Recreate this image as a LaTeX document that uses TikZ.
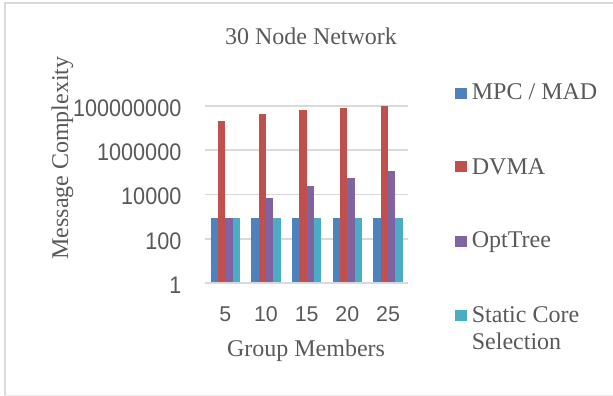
\documentclass[tikz,border=0pt]{standalone}
\usepackage{fontspec}
\setmainfont{Liberation Serif}
\newfontfamily\ticksf{Liberation Sans}
\definecolor{cblue}{HTML}{4F81BD}
\definecolor{cred}{HTML}{C0504D}
\definecolor{cpurple}{HTML}{8064A2}
\definecolor{ccyan}{HTML}{4BACC6}
\definecolor{gridc}{HTML}{D9D9D9}
\definecolor{txt}{HTML}{595959}
\newcommand{\tickstretch}[1]{\scalebox{1}[1.11]{#1}}
\tikzset{
  gridline/.style={draw=gridc, line width=1.6pt},
  ticklab/.style={anchor=base east, inner sep=0pt, text=txt, font=\ticksf\fontsize{21.6}{24}\selectfont},
  catlab/.style={anchor=base, inner sep=0pt, text=txt, font=\ticksf\fontsize{21.4}{24}\selectfont},
  titlelab/.style={anchor=base, inner sep=0pt, text=txt, font=\fontsize{24}{27}\selectfont},
  leglab/.style={anchor=base west, inner sep=0pt, text=txt, font=\fontsize{24}{26.7}\selectfont},
  legsq/.style={minimum size=11.3pt, inner sep=0pt, anchor=north west}
}
\begin{document}
\begin{tikzpicture}[x=1pt,y=-1pt]
\useasboundingbox (0,0) rectangle (613,396);
% frame
\draw[draw=gridc, line width=2pt] (5,396) -- (5,3) -- (614,3);
\draw[draw=gridc!50, line width=1pt] (5,395.5) -- (614,395.5);
% gridlines
\foreach \yy in {105.7,150,194.3,238.7,282.7}
  \draw[gridline] (205,\yy) -- (408.3,\yy);
% tick labels
\node[ticklab] (t8) at (181.5,116) {\tickstretch{100000000}};
\node[ticklab] (t6) at (181.5,160.3) {\tickstretch{1000000}};
\node[ticklab] (t4) at (181.5,204.6) {\tickstretch{10000}};
\node[ticklab] (t2) at (181.5,249) {\tickstretch{100}};
\node[ticklab] (t0) at (181.5,293) {\tickstretch{1}};
% bars
\def\base{282}
\foreach \c/\r/\p in {225.3/121/217.7, 266/114.3/197.7, 306.7/110.3/186, 347.3/108/177.7, 388/105.7/171}{
  \fill[cblue] (\c-14.67,\base) rectangle (\c-7.33,217.7);
  \fill[cred] (\c-7.33,\base) rectangle (\c,\r);
  \fill[cpurple] (\c,\base) rectangle (\c+7.33,\p);
  \fill[ccyan] (\c+7.33,\base) rectangle (\c+14.67,217.7);
}
% category labels
\node[catlab] (c1) at (225.3,321.7) {5};
\node[catlab] (c2) at (266,321.7) {10};
\node[catlab] (c3) at (306.7,321.7) {15};
\node[catlab] (c4) at (347.3,321.7) {20};
\node[catlab] (c5) at (388,321.7) {25};
% titles
\node[titlelab] (title) at (311,45) {30 Node Network};
\node[titlelab] (xt) at (306,356.7) {Group Members};
\node[titlelab, rotate=90] (yt) at (68,158) {Message Complexity};
% legend
\node[legsq, fill=cblue] (s1) at (455,87.5) {};
\node[leglab] (l1) at (471.7,99.3) {MPC / MAD};
\node[legsq, fill=cred] (s2) at (455,160.3) {};
\node[leglab] (l2) at (471.7,174.3) {DVMA};
\node[legsq, fill=cpurple] (s3) at (455,235.7) {};
\node[leglab] (l3) at (471.7,247.7) {OptTree};
\node[legsq, fill=ccyan] (s4) at (455,309.7) {};
\node[leglab] (l4) at (471.7,322.7) {\vtop{\hbox{Static Core}\hbox{Selection}}};
\end{tikzpicture}
\end{document}
